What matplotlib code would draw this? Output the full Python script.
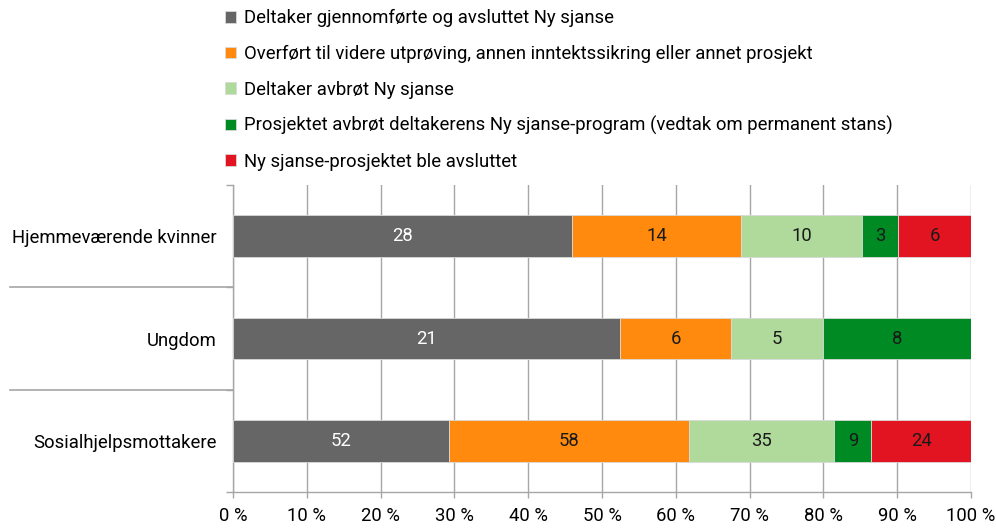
import numpy as np
import matplotlib.pyplot as plt
import matplotlib.transforms as mtransforms

plt.rcParams['font.family'] = ['Roboto', 'DejaVu Sans']

categories = ["Hjemmeværende kvinner", "Ungdom", "Sosialhjelpsmottakere"]
series = [
    "Deltaker gjennomførte og avsluttet Ny sjanse",
    "Overført til videre utprøving, annen inntektssikring eller annet prosjekt",
    "Deltaker avbrøt Ny sjanse",
    "Prosjektet avbrøt deltakerens Ny sjanse-program (vedtak om permanent stans)",
    "Ny sjanse-prosjektet ble avsluttet",
]
counts = [
    [28, 21, 52],
    [14, 6, 58],
    [10, 5, 35],
    [3, 8, 9],
    [6, 0, 24],
]
colors = ["#666666", "#FF8A0D", "#B0DA9B", "#008A24", "#E31421"]
label_colors = ["white", "#1a1a1a", "#1a1a1a", "#1a1a1a", "#1a1a1a"]

counts = np.array(counts, dtype=float)
totals = counts.sum(axis=0)
shares = counts / totals * 100

fs = 13.3
fig = plt.figure(figsize=(9.96, 5.29), dpi=100)
ax = fig.add_axes([233 / 996, 1 - 492 / 529, 738 / 996, 307 / 529])

y = np.arange(len(categories))
left = np.zeros(len(categories))
handles = []
for i, name in enumerate(series):
    bars = ax.barh(y, shares[i], left=left, height=0.41, color=colors[i],
                   edgecolor="#d9d9d9", linewidth=0.6, label=name, zorder=3)
    handles.append(bars)
    for j in range(len(categories)):
        if counts[i, j] > 0:
            ax.text(left[j] + shares[i, j] / 2, y[j], "%d" % counts[i, j],
                    ha="center", va="center", fontsize=fs,
                    color=label_colors[i], zorder=4)
    left = left + shares[i]

ax.set_xlim(0, 100)
ax.set_ylim(2.5, -0.5)
ax.set_xticks(np.arange(0, 101, 10))
ax.set_xticklabels(["%d %%" % v for v in range(0, 101, 10)], fontsize=fs)
ax.set_yticks(y)
ax.set_yticklabels(categories, fontsize=fs)
ax.set_yticks([-0.5, 0.5, 1.5, 2.5], minor=True)
ax.tick_params(axis="y", which="major", length=0, pad=12)
ax.tick_params(axis="y", which="minor", length=5, color="#a6a6a6", width=1)
ax.tick_params(axis="x", length=4, color="#a6a6a6", width=1, pad=7)
ax.xaxis.grid(True, color="#a6a6a6", linewidth=1, zorder=0)
ax.set_axisbelow(True)
for s in ["top", "right"]:
    ax.spines[s].set_visible(False)
for s in ["left", "bottom"]:
    ax.spines[s].set_color("#a6a6a6")
    ax.spines[s].set_linewidth(1)

# long separators between category labels
trans = mtransforms.blended_transform_factory(ax.transAxes, ax.transData)
for b in [0.5, 1.5]:
    ax.plot([-(233 - 10) / 738, 0], [b, b], transform=trans, color="#a6a6a6",
            linewidth=1.2, clip_on=False)

fig.legend(handles=handles, labels=series, loc="upper left",
           bbox_to_anchor=(212 / 996, 1.007), frameon=False, fontsize=fs,
           handlelength=0.6, handleheight=0.6, handletextpad=0.45,
           labelspacing=0.95, borderaxespad=0.3)

fig.savefig("out.png", dpi=100)
